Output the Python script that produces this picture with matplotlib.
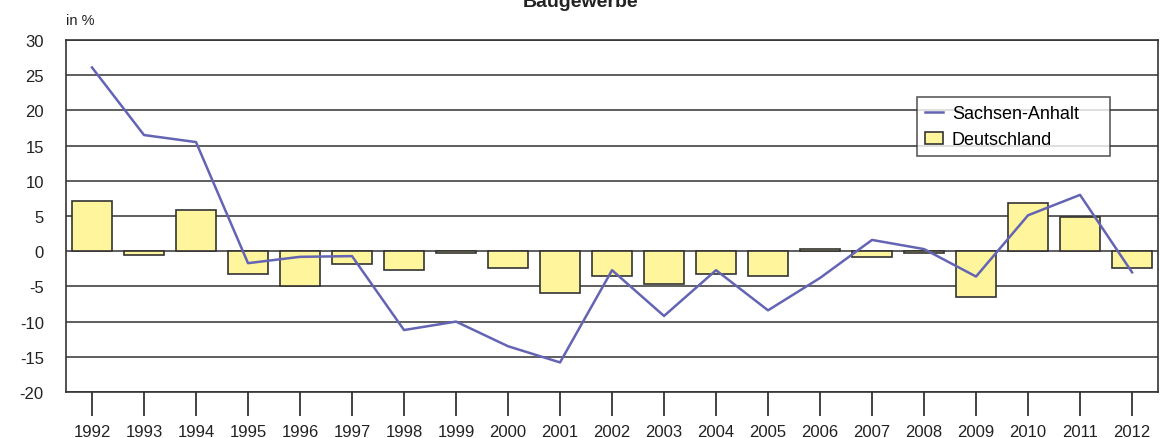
import numpy as np
import matplotlib.pyplot as plt

plt.rcParams['font.family'] = ['Liberation Sans', 'DejaVu Sans']
plt.rcParams['axes.unicode_minus'] = False

years = [str(y) for y in range(1992, 2013)]
deutschland = [7.1, -0.5, 5.8, -3.3, -5.0, -1.8, -2.7, -0.3, -2.4, -6.0, -3.5,
               -4.6, -3.2, -3.5, 0.3, -0.8, -0.3, -6.5, 6.8, 4.9, -2.4]
sachsen_anhalt = [26.1, 16.5, 15.5, -1.7, -0.8, -0.7, -11.2, -10.0, -13.5, -15.8, -2.7,
                  -9.2, -2.7, -8.4, -3.8, 1.6, 0.3, -3.6, 5.1, 8.0, -3.0]

fig = plt.figure(figsize=(11.62, 4.39), dpi=100)
ax = fig.add_axes([0.0568, 0.1048, 0.9398, 0.8018])

x = np.arange(len(years))
ax.bar(x, deutschland, width=0.77, color='#fff59d', edgecolor='#333333',
       linewidth=1.2, label='Deutschland', zorder=3)
ax.plot(x, sachsen_anhalt, color='#6464b4', linewidth=1.8, label='Sachsen-Anhalt', zorder=4)

ax.set_xlim(-0.5, len(years) - 0.5)
ax.set_ylim(-20, 30)
ax.set_yticks(range(-20, 31, 5))
ax.set_xticks(x)
ax.set_xticklabels(years)
ax.yaxis.grid(True, color='#333333', linewidth=1.1, zorder=0)
ax.tick_params(axis='y', length=0, labelsize=12, pad=16, colors='#222222')
ax.tick_params(axis='x', length=17, width=1.2, labelsize=12, pad=6, colors='#222222')
for s in ax.spines.values():
    s.set_color('#333333')
    s.set_linewidth(1.2)

fig.text(0.0568, 0.953, 'in %', fontsize=10.5, color='#222222', va='center')
# title sits at the top edge, cut off like in the original
fig.text(0.5, 0.995, 'Baugewerbe', fontsize=14, fontweight='bold', color='#222222',
         ha='center', va='center')

leg = ax.legend(loc='upper left', bbox_to_anchor=(0.779, 0.676, 0.177, 0.162),
                mode='expand', frameon=True, fancybox=False, edgecolor='#333333',
                fontsize=13, handlelength=1.0, handletextpad=0.5, borderpad=0.45,
                labelspacing=0.5, borderaxespad=0)
leg.get_frame().set_linewidth(1.2)

fig.savefig('out.png', dpi=100)
